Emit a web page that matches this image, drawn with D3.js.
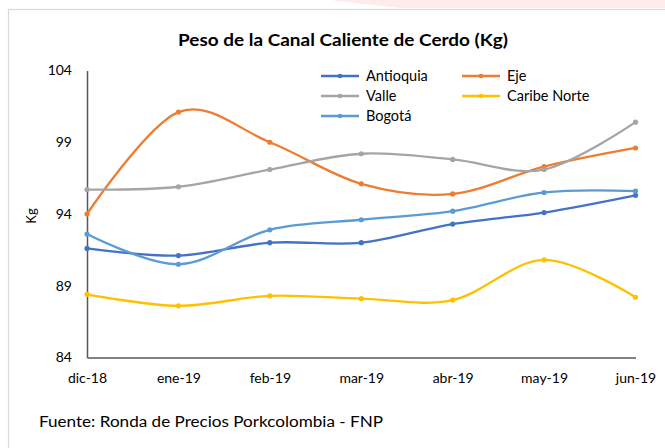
<!DOCTYPE html>
<html><head><meta charset="utf-8">
<script src="https://cdn.jsdelivr.net/npm/d3@7"></script>
<style>body{margin:0;background:#fff}svg{display:block}text{font-family:Lato,"Open Sans",sans-serif}</style>
</head><body>
<svg id="c" width="665" height="448"></svg>
<script>
const months = ["dic-18","ene-19","feb-19","mar-19","abr-19","may-19","jun-19"];
const antioquia = [91.6, 91.1, 92.0, 92.0, 93.3, 94.1, 95.3];
const eje = [94.0, 101.1, 99.0, 96.1, 95.4, 97.3, 98.6];
const valle = [95.7, 95.9, 97.1, 98.2, 97.8, 97.1, 100.4];
const bogota = [92.6, 90.5, 92.9, 93.6, 94.2, 95.5, 95.6];
const caribe = [88.4, 87.6, 88.3, 88.1, 88.0, 90.8, 88.2];
const yTicks = [84, 89, 94, 99, 104];
const seriesNames = ["Antioquia","Eje","Valle","Caribe Norte","Bogotá"];
const seriesData = [antioquia, eje, valle, caribe, bogota];
const colors = ["#4472C4","#ED7D31","#A5A5A5","#FFC000","#5B9BD5"];

const svg = d3.select("#c");
// background decoration and frame
svg.append("path").attr("d","M330,0 L665,0 L665,8 L400,8 Z").attr("fill","#fdeceb");
svg.append("rect").attr("x",8.5).attr("y",9.5).attr("width",670).attr("height",460)
  .attr("fill","none").attr("stroke","#d9d9d9").attr("stroke-width",1.2);

const x = d3.scalePoint().domain(months).range([87, 635.5]).padding(0);
const y = d3.scaleLinear().domain([84, 104]).range([357.5, 70.5]);

// title
svg.append("text").attr("x",178).attr("y",46)
  .attr("font-size",17.5).attr("font-weight","bold").attr("fill","#000")
  .attr("textLength",330).attr("lengthAdjust","spacingAndGlyphs")
  .text("Peso de la Canal Caliente de Cerdo (Kg)");

// axes
const yAxis = svg.append("g").attr("transform","translate(87,0)")
  .call(d3.axisLeft(y).tickValues(yTicks).tickSize(0).tickPadding(15).tickFormat(d3.format("d")));
yAxis.select(".domain").attr("stroke","#595959").attr("stroke-width",1.5);
yAxis.selectAll("text").attr("font-size",14).attr("fill","#000").attr("font-family","Lato");

const xAxis = svg.append("g").attr("transform","translate(0,357.5)")
  .call(d3.axisBottom(x).tickSize(0).tickPadding(16));
xAxis.select(".domain").attr("stroke","#595959").attr("stroke-width",1.5);
xAxis.selectAll("text").attr("font-size",14).attr("fill","#000").attr("font-family","Lato");

// y label
svg.append("text").attr("transform","translate(36,216) rotate(-90)").attr("text-anchor","middle")
  .attr("font-size",13).attr("fill","#000").text("Kg");

// lines
const line = d3.line().x((d,i)=>x(months[i])).y(d=>y(d)).curve(d3.curveCardinal.tension(0));
seriesData.forEach((data, k) => {
  const g = svg.append("g");
  g.append("path").attr("d", line(data)).attr("fill","none").attr("stroke",colors[k])
    .attr("stroke-width",2.3).attr("stroke-linecap","round");
  g.selectAll("circle").data(data).join("circle")
    .attr("cx",(d,i)=>x(months[i])).attr("cy",d=>y(d)).attr("r",2.6).attr("fill",colors[k]);
});

// legend
const legendPos = [[321,76],[462,76],[321,96],[462,96],[321,116]];
const legendOrder = [0,1,2,3,4];
legendOrder.forEach((k, j) => {
  const [lx, ly] = legendPos[j];
  const g = svg.append("g").attr("transform",`translate(${lx},${ly})`);
  g.append("line").attr("x1",0).attr("x2",38).attr("stroke",colors[k]).attr("stroke-width",2.3);
  g.append("circle").attr("cx",19).attr("r",2.3).attr("fill",colors[k]);
  g.append("text").attr("x",45).attr("dy","0.35em").attr("font-size",14.5).attr("fill","#000").text(seriesNames[k]);
});

// source
svg.append("text").attr("x",39).attr("y",427).attr("font-size",15.5).attr("fill","#000")
  .attr("textLength",344).attr("lengthAdjust","spacingAndGlyphs")
  .text("Fuente:  Ronda de Precios Porkcolombia - FNP");
</script>
</body></html>
